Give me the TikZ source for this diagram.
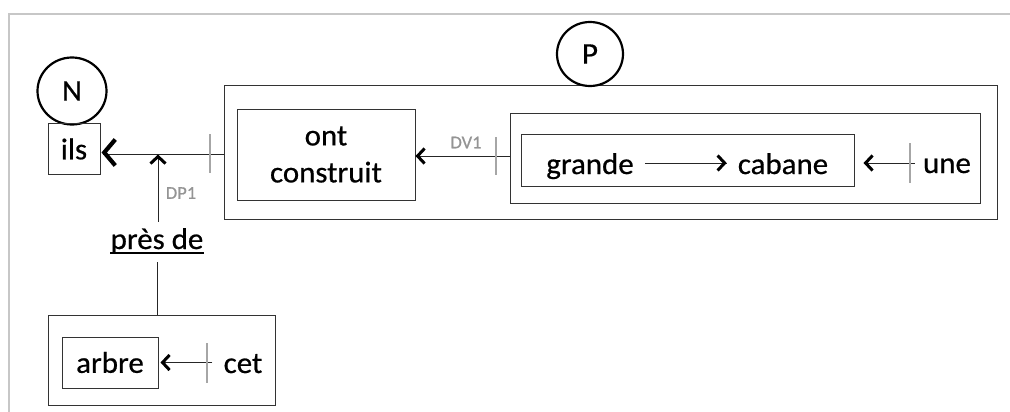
\documentclass[tikz,border=0pt]{standalone}
\usepackage{fontspec}
\setmainfont{Carlito}[FakeStretch=1.03,FakeBold=0.6]
\usetikzlibrary{arrows.meta,shapes.geometric,calc,decorations.markings}
\begin{document}
\begin{tikzpicture}[x=1pt,y=-1pt,
  box/.style={draw=black!80, line width=1pt, inner sep=0pt},
  circ/.style={draw=black, line width=2.2pt, ellipse, inner sep=0pt},
  txt/.style={font=\fontsize{30}{37}\selectfont, inner sep=0pt},
  lab/.style={font=\fontsize{18}{20}\selectfont, text=black!42, inner sep=0pt},
  tickmark/.style={draw=black!35, line width=2pt},
  conn/.style={draw=black!85, line width=1pt},
  arr/.style={conn, postaction={decorate, decoration={markings,
      mark=at position 1 with {\arrow[line width=3pt, black]{Straight Barb[length=7pt,width=15pt]}}}}},
  bigtip/.style={postaction={decorate, decoration={markings,
      mark=at position 1 with {\arrow[line width=4.2pt, black]{Straight Barb[length=11pt,width=26pt]}}}}},
  dbl/.style={draw=black!85, line width=0.9pt, double=white, double distance=2.2pt},
  frameline/.style={draw=black!22, line width=1.8pt}
]
\useasboundingbox (0,0) rectangle (1010,412);
\draw[frameline] (9,412) -- (9,14) -- (1010,14);

% N and ils
\node[circ, txt, minimum width=69pt, minimum height=67pt] (N) at (72,91) {N};
\node[box, txt, minimum width=52pt, minimum height=51pt] (ils) at (74,149) {ils};

% P group
\node[box, minimum width=773pt, minimum height=133pt] (Pbox) at (610.5,152.5) {};
\node[circ, txt, minimum width=66pt, minimum height=64pt, fill=white] (P) at (590,54) {P};
\node[box, txt, align=center, minimum width=178pt, minimum height=91pt] (oc) at (326,154.5) {ont\\construit};
\node[box, minimum width=470pt, minimum height=90pt] (rb) at (745,158) {};
\node[box, minimum width=333pt, minimum height=52pt] (inner) at (687.5,160) {};
\node[txt, anchor=base] (gr) at (590,174) {grande};
\node[txt, anchor=base] (cab) at (783,174) {cabane};
\node[txt, anchor=base] (une) at (947,173) {une};

\draw[arr] ([xshift=11pt,yshift=-3pt]gr.east |- inner.center) -- ([xshift=-11pt,yshift=-3pt]cab.west |- inner.center);
\draw[arr] ([xshift=-8pt,yshift=-3pt]une.west |- inner.center) -- ([xshift=9pt,yshift=-3pt]inner.east);
\draw[tickmark] (910,143) -- (910,183);

% DV1
\draw[arr] ([yshift=2pt]rb.west) -- ([yshift=2pt]rb.west -| oc.east);
\draw[tickmark] (496,137) -- (496,175);
\node[lab] (dv1) at (466,142.5) {DV1};

% double arrow to ils
\draw[dbl, shorten >=2pt] (Pbox.west) -- (Pbox.west -| ils.east);
\path[bigtip] ([xshift=12pt]Pbox.west -| ils.east) -- ([xshift=1pt]Pbox.west -| ils.east);
\draw[tickmark] (210,134) -- (210,173);

% près de
\node[txt, anchor=base] (pres) at (157,249) {près de};
\draw[line width=1.2pt] ([yshift=-4pt]pres.base west) -- ([yshift=-4pt]pres.base east);
\draw[arr] ([xshift=1pt,yshift=6pt]pres.north) -- ([xshift=1pt,yshift=-2pt]pres.north |- Pbox.west);
\node[lab] (dp1) at (181,193) {DP1};

% bottom group
\node[box, minimum width=227pt, minimum height=90pt] (bot) at (161.5,360) {};
\draw[conn, shorten <=8pt] (pres.south) -- (pres.south |- bot.north);
\node[box, txt, minimum width=96pt, minimum height=51pt] (arbre) at (110,362.5) {arbre};
\node[txt, anchor=base] (cet) at (243,373) {cet};
\draw[arr] ([xshift=-11pt]cet.west |- arbre.east) -- ([xshift=2pt]arbre.east);
\draw[tickmark] (207,343) -- (207,383);
\end{tikzpicture}
\end{document}
